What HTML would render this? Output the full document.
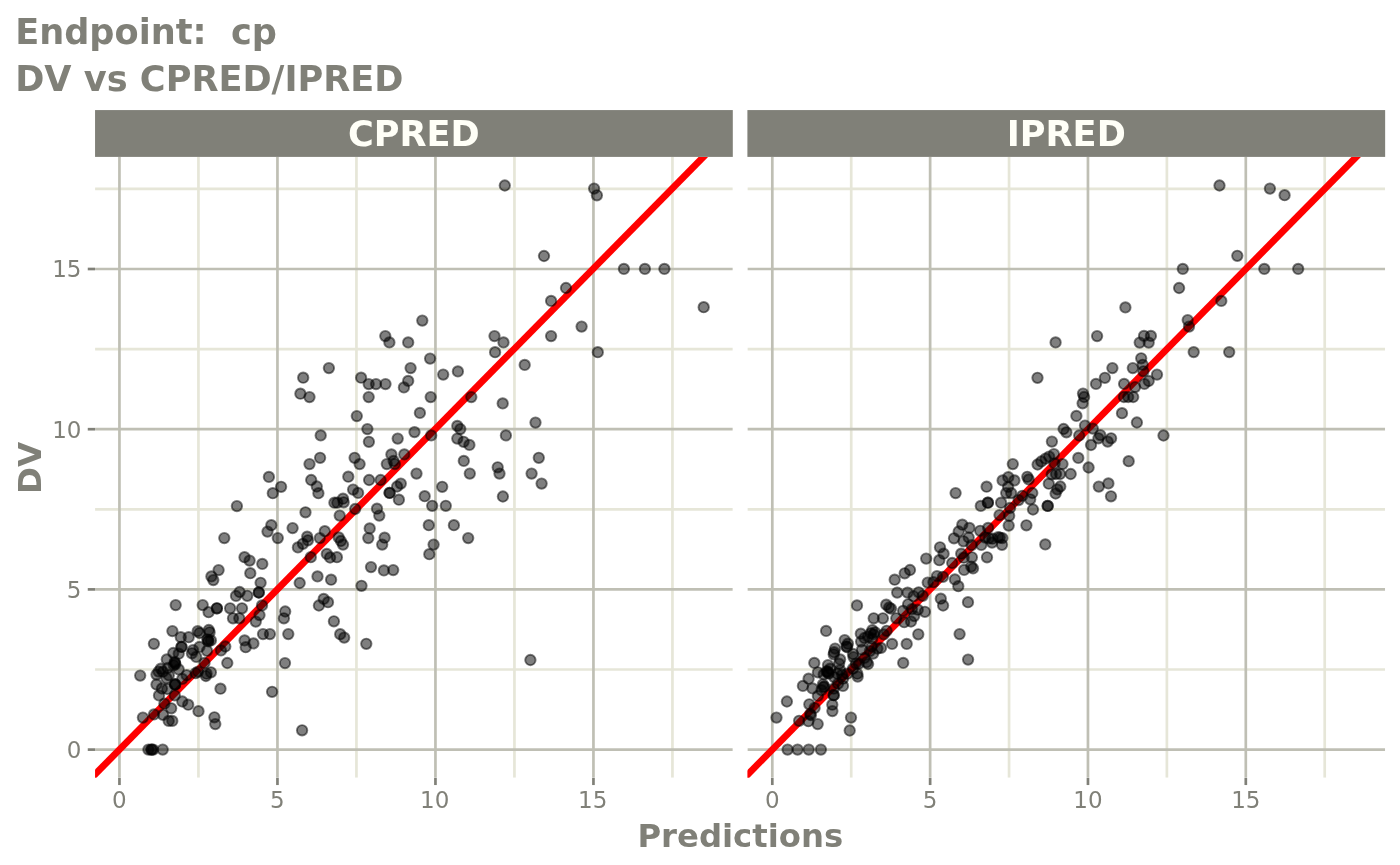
<!DOCTYPE html>
<html><head><meta charset="utf-8"><title>DV vs CPRED/IPRED</title>
<style>html,body{margin:0;padding:0;background:#fff;}svg{display:block}text{font-family:"DejaVu Sans","Liberation Sans",sans-serif;fill:#808078}.b{font-weight:bold}.t{font-size:23px}</style></head><body>
<svg width="1400" height="865" viewBox="0 0 1400 865">
<rect width="1400" height="865" fill="#fff"/>
<text class="b" x="15.2" y="43.9" font-size="35.15" xml:space="preserve" style="white-space:pre">Endpoint:  cp</text>
<text class="b" x="15.2" y="91.4" font-size="35.15">DV vs CPRED/IPRED</text>
<defs><clipPath id="c0"><rect x="95.05" y="156.90" width="637.75" height="620.95"/></clipPath><clipPath id="c1"><rect x="747.40" y="156.90" width="637.75" height="620.95"/></clipPath></defs>
<rect x="95.05" y="110.07" width="637.75" height="46.83" fill="#808078"/>
<text class="b" x="413.92" y="146.4" font-size="35.15" text-anchor="middle" style="fill:#FFFFF7">CPRED</text>
<g clip-path="url(#c0)">
<line x1="198.45" x2="198.45" y1="156.90" y2="777.85" stroke="#E6E6D8" stroke-width="2.70"/>
<line x1="95.05" x2="732.80" y1="669.50" y2="669.50" stroke="#E6E6D8" stroke-width="2.70"/>
<line x1="356.45" x2="356.45" y1="156.90" y2="777.85" stroke="#E6E6D8" stroke-width="2.70"/>
<line x1="95.05" x2="732.80" y1="509.30" y2="509.30" stroke="#E6E6D8" stroke-width="2.70"/>
<line x1="514.45" x2="514.45" y1="156.90" y2="777.85" stroke="#E6E6D8" stroke-width="2.70"/>
<line x1="95.05" x2="732.80" y1="349.10" y2="349.10" stroke="#E6E6D8" stroke-width="2.70"/>
<line x1="672.45" x2="672.45" y1="156.90" y2="777.85" stroke="#E6E6D8" stroke-width="2.70"/>
<line x1="95.05" x2="732.80" y1="188.90" y2="188.90" stroke="#E6E6D8" stroke-width="2.70"/>
<line x1="119.45" x2="119.45" y1="156.90" y2="777.85" stroke="#BFBFB4" stroke-width="2.70"/>
<line x1="95.05" x2="732.80" y1="749.60" y2="749.60" stroke="#BFBFB4" stroke-width="2.70"/>
<line x1="277.45" x2="277.45" y1="156.90" y2="777.85" stroke="#BFBFB4" stroke-width="2.70"/>
<line x1="95.05" x2="732.80" y1="589.40" y2="589.40" stroke="#BFBFB4" stroke-width="2.70"/>
<line x1="435.45" x2="435.45" y1="156.90" y2="777.85" stroke="#BFBFB4" stroke-width="2.70"/>
<line x1="95.05" x2="732.80" y1="429.20" y2="429.20" stroke="#BFBFB4" stroke-width="2.70"/>
<line x1="593.45" x2="593.45" y1="156.90" y2="777.85" stroke="#BFBFB4" stroke-width="2.70"/>
<line x1="95.05" x2="732.80" y1="269.00" y2="269.00" stroke="#BFBFB4" stroke-width="2.70"/>
<line x1="24.75" y1="845.72" x2="813.92" y2="44.72" stroke="#ff0000" stroke-width="6.8"/>
<g fill="#000" fill-opacity="0.5" stroke="#000" stroke-opacity="0.5" stroke-width="1.9">
<circle cx="504.8" cy="185.5" r="5.2"/>
<circle cx="594.1" cy="188.6" r="5.2"/>
<circle cx="596.9" cy="195.3" r="5.2"/>
<circle cx="544.0" cy="256.0" r="5.2"/>
<circle cx="623.9" cy="268.9" r="5.2"/>
<circle cx="644.9" cy="268.9" r="5.2"/>
<circle cx="664.4" cy="268.9" r="5.2"/>
<circle cx="566.0" cy="288.0" r="5.2"/>
<circle cx="551.1" cy="300.9" r="5.2"/>
<circle cx="703.7" cy="307.2" r="5.2"/>
<circle cx="581.6" cy="326.6" r="5.2"/>
<circle cx="494.5" cy="336.1" r="5.2"/>
<circle cx="551.1" cy="336.1" r="5.2"/>
<circle cx="503.5" cy="342.4" r="5.2"/>
<circle cx="495.1" cy="352.2" r="5.2"/>
<circle cx="597.8" cy="352.2" r="5.2"/>
<circle cx="524.7" cy="364.9" r="5.2"/>
<circle cx="502.7" cy="403.4" r="5.2"/>
<circle cx="535.5" cy="422.6" r="5.2"/>
<circle cx="505.9" cy="435.4" r="5.2"/>
<circle cx="538.8" cy="457.8" r="5.2"/>
<circle cx="497.7" cy="467.3" r="5.2"/>
<circle cx="499.5" cy="473.6" r="5.2"/>
<circle cx="531.6" cy="473.6" r="5.2"/>
<circle cx="422.3" cy="320.6" r="5.2"/>
<circle cx="385.3" cy="336.1" r="5.2"/>
<circle cx="389.4" cy="342.4" r="5.2"/>
<circle cx="408.2" cy="342.4" r="5.2"/>
<circle cx="430.1" cy="358.6" r="5.2"/>
<circle cx="328.9" cy="368.1" r="5.2"/>
<circle cx="410.6" cy="368.1" r="5.2"/>
<circle cx="457.9" cy="371.4" r="5.2"/>
<circle cx="443.2" cy="374.6" r="5.2"/>
<circle cx="303.2" cy="377.7" r="5.2"/>
<circle cx="361.1" cy="377.7" r="5.2"/>
<circle cx="408.2" cy="380.9" r="5.2"/>
<circle cx="368.7" cy="384.1" r="5.2"/>
<circle cx="376.0" cy="384.1" r="5.2"/>
<circle cx="385.5" cy="384.1" r="5.2"/>
<circle cx="403.9" cy="387.4" r="5.2"/>
<circle cx="300.4" cy="393.7" r="5.2"/>
<circle cx="309.5" cy="397.1" r="5.2"/>
<circle cx="368.7" cy="397.1" r="5.2"/>
<circle cx="430.7" cy="397.1" r="5.2"/>
<circle cx="471.3" cy="397.1" r="5.2"/>
<circle cx="419.9" cy="412.9" r="5.2"/>
<circle cx="356.8" cy="416.1" r="5.2"/>
<circle cx="457.3" cy="425.9" r="5.2"/>
<circle cx="367.4" cy="429.1" r="5.2"/>
<circle cx="460.3" cy="429.1" r="5.2"/>
<circle cx="414.5" cy="432.1" r="5.2"/>
<circle cx="320.7" cy="435.4" r="5.2"/>
<circle cx="431.2" cy="435.4" r="5.2"/>
<circle cx="397.7" cy="438.6" r="5.2"/>
<circle cx="457.3" cy="438.6" r="5.2"/>
<circle cx="368.9" cy="441.8" r="5.2"/>
<circle cx="463.6" cy="441.8" r="5.2"/>
<circle cx="469.4" cy="444.9" r="5.2"/>
<circle cx="391.4" cy="454.4" r="5.2"/>
<circle cx="404.3" cy="454.4" r="5.2"/>
<circle cx="320.1" cy="457.8" r="5.2"/>
<circle cx="354.6" cy="457.8" r="5.2"/>
<circle cx="393.6" cy="460.9" r="5.2"/>
<circle cx="463.8" cy="460.9" r="5.2"/>
<circle cx="309.5" cy="464.1" r="5.2"/>
<circle cx="359.6" cy="464.1" r="5.2"/>
<circle cx="386.8" cy="464.1" r="5.2"/>
<circle cx="394.9" cy="464.1" r="5.2"/>
<circle cx="416.5" cy="473.6" r="5.2"/>
<circle cx="469.8" cy="473.6" r="5.2"/>
<circle cx="348.3" cy="476.7" r="5.2"/>
<circle cx="311.2" cy="480.0" r="5.2"/>
<circle cx="369.1" cy="480.0" r="5.2"/>
<circle cx="380.6" cy="480.0" r="5.2"/>
<circle cx="400.8" cy="483.6" r="5.2"/>
<circle cx="397.1" cy="486.5" r="5.2"/>
<circle cx="316.8" cy="486.5" r="5.2"/>
<circle cx="442.2" cy="486.8" r="5.2"/>
<circle cx="353.1" cy="489.6" r="5.2"/>
<circle cx="358.1" cy="492.9" r="5.2"/>
<circle cx="318.4" cy="493.2" r="5.2"/>
<circle cx="389.6" cy="492.9" r="5.2"/>
<circle cx="389.6" cy="492.9" r="5.2"/>
<circle cx="424.7" cy="496.2" r="5.2"/>
<circle cx="398.9" cy="499.7" r="5.2"/>
<circle cx="343.0" cy="498.7" r="5.2"/>
<circle cx="343.7" cy="502.3" r="5.2"/>
<circle cx="334.4" cy="502.7" r="5.2"/>
<circle cx="337.3" cy="502.7" r="5.2"/>
<circle cx="432.2" cy="505.8" r="5.2"/>
<circle cx="445.8" cy="505.8" r="5.2"/>
<circle cx="355.2" cy="509.0" r="5.2"/>
<circle cx="377.0" cy="508.7" r="5.2"/>
<circle cx="305.5" cy="512.3" r="5.2"/>
<circle cx="339.7" cy="515.6" r="5.2"/>
<circle cx="379.3" cy="515.6" r="5.2"/>
<circle cx="428.8" cy="525.2" r="5.2"/>
<circle cx="453.9" cy="525.2" r="5.2"/>
<circle cx="369.7" cy="528.4" r="5.2"/>
<circle cx="324.8" cy="531.2" r="5.2"/>
<circle cx="307.2" cy="536.7" r="5.2"/>
<circle cx="307.9" cy="540.3" r="5.2"/>
<circle cx="302.9" cy="543.8" r="5.2"/>
<circle cx="297.9" cy="547.4" r="5.2"/>
<circle cx="319.8" cy="538.1" r="5.2"/>
<circle cx="338.7" cy="537.4" r="5.2"/>
<circle cx="340.9" cy="541.0" r="5.2"/>
<circle cx="343.0" cy="544.6" r="5.2"/>
<circle cx="368.3" cy="538.1" r="5.2"/>
<circle cx="384.6" cy="537.7" r="5.2"/>
<circle cx="468.2" cy="538.1" r="5.2"/>
<circle cx="382.2" cy="544.6" r="5.2"/>
<circle cx="433.6" cy="544.6" r="5.2"/>
<circle cx="429.3" cy="554.2" r="5.2"/>
<circle cx="326.8" cy="553.9" r="5.2"/>
<circle cx="330.1" cy="557.5" r="5.2"/>
<circle cx="336.9" cy="557.2" r="5.2"/>
<circle cx="310.8" cy="557.2" r="5.2"/>
<circle cx="371.0" cy="567.1" r="5.2"/>
<circle cx="383.9" cy="570.4" r="5.2"/>
<circle cx="393.2" cy="570.1" r="5.2"/>
<circle cx="317.5" cy="576.4" r="5.2"/>
<circle cx="331.1" cy="579.7" r="5.2"/>
<circle cx="299.7" cy="583.0" r="5.2"/>
<circle cx="361.5" cy="585.8" r="5.2"/>
<circle cx="541.6" cy="483.6" r="5.2"/>
<circle cx="502.9" cy="496.5" r="5.2"/>
<circle cx="268.9" cy="476.9" r="5.2"/>
<circle cx="281.1" cy="486.8" r="5.2"/>
<circle cx="272.8" cy="493.2" r="5.2"/>
<circle cx="236.9" cy="506.1" r="5.2"/>
<circle cx="271.3" cy="525.2" r="5.2"/>
<circle cx="267.5" cy="531.6" r="5.2"/>
<circle cx="277.8" cy="538.1" r="5.2"/>
<circle cx="292.6" cy="528.1" r="5.2"/>
<circle cx="224.3" cy="538.1" r="5.2"/>
<circle cx="244.5" cy="557.2" r="5.2"/>
<circle cx="249.6" cy="560.6" r="5.2"/>
<circle cx="262.3" cy="563.9" r="5.2"/>
<circle cx="218.6" cy="570.1" r="5.2"/>
<circle cx="211.4" cy="576.4" r="5.2"/>
<circle cx="213.3" cy="580.1" r="5.2"/>
<circle cx="250.3" cy="573.2" r="5.2"/>
<circle cx="260.6" cy="582.8" r="5.2"/>
<circle cx="258.8" cy="592.5" r="5.2"/>
<circle cx="258.8" cy="592.5" r="5.2"/>
<circle cx="239.6" cy="592.0" r="5.2"/>
<circle cx="236.0" cy="595.9" r="5.2"/>
<circle cx="247.3" cy="595.8" r="5.2"/>
<circle cx="202.7" cy="605.1" r="5.2"/>
<circle cx="208.6" cy="612.2" r="5.2"/>
<circle cx="216.9" cy="608.3" r="5.2"/>
<circle cx="216.9" cy="608.3" r="5.2"/>
<circle cx="230.1" cy="608.3" r="5.2"/>
<circle cx="242.0" cy="608.3" r="5.2"/>
<circle cx="233.0" cy="618.3" r="5.2"/>
<circle cx="239.3" cy="618.3" r="5.2"/>
<circle cx="262.0" cy="605.4" r="5.2"/>
<circle cx="259.5" cy="615.1" r="5.2"/>
<circle cx="255.8" cy="621.6" r="5.2"/>
<circle cx="285.2" cy="611.5" r="5.2"/>
<circle cx="283.9" cy="618.3" r="5.2"/>
<circle cx="263.0" cy="634.1" r="5.2"/>
<circle cx="269.9" cy="634.1" r="5.2"/>
<circle cx="288.3" cy="634.1" r="5.2"/>
<circle cx="253.4" cy="643.4" r="5.2"/>
<circle cx="175.7" cy="605.1" r="5.2"/>
<circle cx="285.0" cy="663.1" r="5.2"/>
<circle cx="272.1" cy="691.8" r="5.2"/>
<circle cx="140.2" cy="675.6" r="5.2"/>
<circle cx="172.4" cy="631.1" r="5.2"/>
<circle cx="180.8" cy="637.2" r="5.2"/>
<circle cx="188.7" cy="637.2" r="5.2"/>
<circle cx="153.9" cy="643.8" r="5.2"/>
<circle cx="197.7" cy="631.1" r="5.2"/>
<circle cx="199.5" cy="633.0" r="5.2"/>
<circle cx="208.8" cy="630.0" r="5.2"/>
<circle cx="209.6" cy="632.3" r="5.2"/>
<circle cx="207.3" cy="639.3" r="5.2"/>
<circle cx="208.4" cy="641.3" r="5.2"/>
<circle cx="210.9" cy="640.4" r="5.2"/>
<circle cx="181.5" cy="646.9" r="5.2"/>
<circle cx="181.5" cy="646.9" r="5.2"/>
<circle cx="199.5" cy="646.9" r="5.2"/>
<circle cx="207.0" cy="650.8" r="5.2"/>
<circle cx="193.0" cy="650.1" r="5.2"/>
<circle cx="191.9" cy="653.3" r="5.2"/>
<circle cx="196.2" cy="656.9" r="5.2"/>
<circle cx="173.3" cy="653.0" r="5.2"/>
<circle cx="178.7" cy="653.7" r="5.2"/>
<circle cx="166.8" cy="659.4" r="5.2"/>
<circle cx="174.7" cy="661.9" r="5.2"/>
<circle cx="175.4" cy="664.1" r="5.2"/>
<circle cx="173.7" cy="665.3" r="5.2"/>
<circle cx="225.3" cy="646.5" r="5.2"/>
<circle cx="221.0" cy="650.4" r="5.2"/>
<circle cx="244.6" cy="640.4" r="5.2"/>
<circle cx="245.7" cy="647.2" r="5.2"/>
<circle cx="227.3" cy="663.0" r="5.2"/>
<circle cx="204.5" cy="663.0" r="5.2"/>
<circle cx="198.0" cy="671.6" r="5.2"/>
<circle cx="195.7" cy="673.2" r="5.2"/>
<circle cx="206.6" cy="673.7" r="5.2"/>
<circle cx="210.9" cy="672.3" r="5.2"/>
<circle cx="205.9" cy="676.0" r="5.2"/>
<circle cx="160.8" cy="668.7" r="5.2"/>
<circle cx="158.6" cy="671.6" r="5.2"/>
<circle cx="162.9" cy="671.7" r="5.2"/>
<circle cx="156.5" cy="674.6" r="5.2"/>
<circle cx="167.9" cy="668.0" r="5.2"/>
<circle cx="168.8" cy="675.2" r="5.2"/>
<circle cx="166.5" cy="678.2" r="5.2"/>
<circle cx="178.7" cy="669.4" r="5.2"/>
<circle cx="186.6" cy="675.2" r="5.2"/>
<circle cx="182.3" cy="678.9" r="5.2"/>
<circle cx="175.1" cy="684.5" r="5.2"/>
<circle cx="175.1" cy="684.5" r="5.2"/>
<circle cx="156.5" cy="684.5" r="5.2"/>
<circle cx="161.9" cy="688.5" r="5.2"/>
<circle cx="167.3" cy="689.0" r="5.2"/>
<circle cx="159.0" cy="695.4" r="5.2"/>
<circle cx="174.8" cy="695.4" r="5.2"/>
<circle cx="182.3" cy="701.5" r="5.2"/>
<circle cx="188.2" cy="704.7" r="5.2"/>
<circle cx="164.4" cy="703.7" r="5.2"/>
<circle cx="171.2" cy="708.3" r="5.2"/>
<circle cx="198.5" cy="711.2" r="5.2"/>
<circle cx="154.0" cy="714.4" r="5.2"/>
<circle cx="142.9" cy="717.6" r="5.2"/>
<circle cx="163.0" cy="714.8" r="5.2"/>
<circle cx="168.7" cy="720.9" r="5.2"/>
<circle cx="172.3" cy="720.9" r="5.2"/>
<circle cx="220.5" cy="688.7" r="5.2"/>
<circle cx="214.4" cy="717.3" r="5.2"/>
<circle cx="215.3" cy="724.1" r="5.2"/>
<circle cx="323.7" cy="598.9" r="5.2"/>
<circle cx="328.0" cy="602.2" r="5.2"/>
<circle cx="318.9" cy="605.5" r="5.2"/>
<circle cx="333.9" cy="621.3" r="5.2"/>
<circle cx="340.2" cy="634.2" r="5.2"/>
<circle cx="344.2" cy="637.6" r="5.2"/>
<circle cx="366.3" cy="643.8" r="5.2"/>
<circle cx="530.4" cy="660.0" r="5.2"/>
<circle cx="302.1" cy="730.3" r="5.2"/>
<circle cx="148.4" cy="749.6" r="5.2"/>
<circle cx="151.2" cy="749.6" r="5.2"/>
<circle cx="151.8" cy="749.6" r="5.2"/>
<circle cx="153.2" cy="749.6" r="5.2"/>
<circle cx="162.7" cy="749.6" r="5.2"/>
<circle cx="208.2" cy="640.4" r="5.2"/>
<circle cx="174.9" cy="663.1" r="5.2"/>
<circle cx="175.2" cy="684.4" r="5.2"/>
</g>
</g>
<line x1="119.45" x2="119.45" y1="777.85" y2="785.05" stroke="#808078" stroke-width="2.70"/>
<text class="t" x="119.25" y="807.9" text-anchor="middle">0</text>
<line x1="277.45" x2="277.45" y1="777.85" y2="785.05" stroke="#808078" stroke-width="2.70"/>
<text class="t" x="277.25" y="807.9" text-anchor="middle">5</text>
<line x1="435.45" x2="435.45" y1="777.85" y2="785.05" stroke="#808078" stroke-width="2.70"/>
<text class="t" x="434.65" y="807.9" text-anchor="middle">10</text>
<line x1="593.45" x2="593.45" y1="777.85" y2="785.05" stroke="#808078" stroke-width="2.70"/>
<text class="t" x="592.65" y="807.9" text-anchor="middle">15</text>
<rect x="747.40" y="110.07" width="637.75" height="46.83" fill="#808078"/>
<text class="b" x="1066.28" y="146.4" font-size="35.15" text-anchor="middle" style="fill:#FFFFF7">IPRED</text>
<g clip-path="url(#c1)">
<line x1="851.22" x2="851.22" y1="156.90" y2="777.85" stroke="#E6E6D8" stroke-width="2.70"/>
<line x1="747.40" x2="1385.15" y1="669.50" y2="669.50" stroke="#E6E6D8" stroke-width="2.70"/>
<line x1="1009.05" x2="1009.05" y1="156.90" y2="777.85" stroke="#E6E6D8" stroke-width="2.70"/>
<line x1="747.40" x2="1385.15" y1="509.30" y2="509.30" stroke="#E6E6D8" stroke-width="2.70"/>
<line x1="1166.89" x2="1166.89" y1="156.90" y2="777.85" stroke="#E6E6D8" stroke-width="2.70"/>
<line x1="747.40" x2="1385.15" y1="349.10" y2="349.10" stroke="#E6E6D8" stroke-width="2.70"/>
<line x1="1324.72" x2="1324.72" y1="156.90" y2="777.85" stroke="#E6E6D8" stroke-width="2.70"/>
<line x1="747.40" x2="1385.15" y1="188.90" y2="188.90" stroke="#E6E6D8" stroke-width="2.70"/>
<line x1="772.30" x2="772.30" y1="156.90" y2="777.85" stroke="#BFBFB4" stroke-width="2.70"/>
<line x1="747.40" x2="1385.15" y1="749.60" y2="749.60" stroke="#BFBFB4" stroke-width="2.70"/>
<line x1="930.13" x2="930.13" y1="156.90" y2="777.85" stroke="#BFBFB4" stroke-width="2.70"/>
<line x1="747.40" x2="1385.15" y1="589.40" y2="589.40" stroke="#BFBFB4" stroke-width="2.70"/>
<line x1="1087.97" x2="1087.97" y1="156.90" y2="777.85" stroke="#BFBFB4" stroke-width="2.70"/>
<line x1="747.40" x2="1385.15" y1="429.20" y2="429.20" stroke="#BFBFB4" stroke-width="2.70"/>
<line x1="1245.80" x2="1245.80" y1="156.90" y2="777.85" stroke="#BFBFB4" stroke-width="2.70"/>
<line x1="747.40" x2="1385.15" y1="269.00" y2="269.00" stroke="#BFBFB4" stroke-width="2.70"/>
<line x1="677.60" y1="845.72" x2="1466.77" y2="44.72" stroke="#ff0000" stroke-width="6.8"/>
<g fill="#000" fill-opacity="0.5" stroke="#000" stroke-opacity="0.5" stroke-width="1.9">
<circle cx="1219.5" cy="185.5" r="5.2"/>
<circle cx="1269.9" cy="188.6" r="5.2"/>
<circle cx="1284.6" cy="195.2" r="5.2"/>
<circle cx="1237.3" cy="255.8" r="5.2"/>
<circle cx="1182.8" cy="268.9" r="5.2"/>
<circle cx="1264.3" cy="268.9" r="5.2"/>
<circle cx="1298.2" cy="268.9" r="5.2"/>
<circle cx="1179.1" cy="288.0" r="5.2"/>
<circle cx="1221.3" cy="300.9" r="5.2"/>
<circle cx="1125.4" cy="307.4" r="5.2"/>
<circle cx="1187.7" cy="320.1" r="5.2"/>
<circle cx="1189.0" cy="326.6" r="5.2"/>
<circle cx="1055.6" cy="342.4" r="5.2"/>
<circle cx="1097.1" cy="336.1" r="5.2"/>
<circle cx="1144.0" cy="335.9" r="5.2"/>
<circle cx="1150.9" cy="335.9" r="5.2"/>
<circle cx="1139.7" cy="342.6" r="5.2"/>
<circle cx="1148.7" cy="342.6" r="5.2"/>
<circle cx="1193.7" cy="352.1" r="5.2"/>
<circle cx="1229.2" cy="352.1" r="5.2"/>
<circle cx="1141.2" cy="358.3" r="5.2"/>
<circle cx="1142.7" cy="364.8" r="5.2"/>
<circle cx="1143.4" cy="371.3" r="5.2"/>
<circle cx="1112.4" cy="368.1" r="5.2"/>
<circle cx="1132.8" cy="368.1" r="5.2"/>
<circle cx="1157.0" cy="374.6" r="5.2"/>
<circle cx="1037.5" cy="377.8" r="5.2"/>
<circle cx="1104.9" cy="377.8" r="5.2"/>
<circle cx="1096.0" cy="383.9" r="5.2"/>
<circle cx="1124.1" cy="383.9" r="5.2"/>
<circle cx="1148.7" cy="381.0" r="5.2"/>
<circle cx="1144.4" cy="383.9" r="5.2"/>
<circle cx="1135.1" cy="387.1" r="5.2"/>
<circle cx="1083.0" cy="393.6" r="5.2"/>
<circle cx="1084.1" cy="397.0" r="5.2"/>
<circle cx="1082.6" cy="403.3" r="5.2"/>
<circle cx="1123.9" cy="397.0" r="5.2"/>
<circle cx="1128.2" cy="397.0" r="5.2"/>
<circle cx="1133.2" cy="397.0" r="5.2"/>
<circle cx="1122.0" cy="413.2" r="5.2"/>
<circle cx="1076.4" cy="415.9" r="5.2"/>
<circle cx="1136.9" cy="422.5" r="5.2"/>
<circle cx="1085.0" cy="425.6" r="5.2"/>
<circle cx="1092.8" cy="428.6" r="5.2"/>
<circle cx="1063.6" cy="429.0" r="5.2"/>
<circle cx="1066.4" cy="432.3" r="5.2"/>
<circle cx="1079.2" cy="435.5" r="5.2"/>
<circle cx="1163.5" cy="435.5" r="5.2"/>
<circle cx="1100.3" cy="435.1" r="5.2"/>
<circle cx="1098.4" cy="438.3" r="5.2"/>
<circle cx="1111.1" cy="438.3" r="5.2"/>
<circle cx="1107.7" cy="441.6" r="5.2"/>
<circle cx="1051.9" cy="441.6" r="5.2"/>
<circle cx="1091.0" cy="445.0" r="5.2"/>
<circle cx="1053.9" cy="454.1" r="5.2"/>
<circle cx="1049.2" cy="456.6" r="5.2"/>
<circle cx="1045.6" cy="458.6" r="5.2"/>
<circle cx="1041.3" cy="461.5" r="5.2"/>
<circle cx="1037.6" cy="464.5" r="5.2"/>
<circle cx="1054.6" cy="463.4" r="5.2"/>
<circle cx="1062.5" cy="464.1" r="5.2"/>
<circle cx="1078.3" cy="457.9" r="5.2"/>
<circle cx="1088.6" cy="467.5" r="5.2"/>
<circle cx="1128.7" cy="461.2" r="5.2"/>
<circle cx="1012.8" cy="464.1" r="5.2"/>
<circle cx="1098.8" cy="486.6" r="5.2"/>
<circle cx="1108.4" cy="483.4" r="5.2"/>
<circle cx="1111.0" cy="496.3" r="5.2"/>
<circle cx="980.8" cy="505.9" r="5.2"/>
<circle cx="1008.7" cy="525.6" r="5.2"/>
<circle cx="1026.4" cy="525.3" r="5.2"/>
<circle cx="1045.3" cy="544.4" r="5.2"/>
<circle cx="1051.7" cy="474.3" r="5.2"/>
<circle cx="1056.0" cy="474.0" r="5.2"/>
<circle cx="1060.1" cy="474.0" r="5.2"/>
<circle cx="1070.7" cy="474.0" r="5.2"/>
<circle cx="1008.3" cy="477.2" r="5.2"/>
<circle cx="1002.6" cy="480.4" r="5.2"/>
<circle cx="1014.4" cy="480.4" r="5.2"/>
<circle cx="1008.1" cy="486.9" r="5.2"/>
<circle cx="1006.2" cy="493.1" r="5.2"/>
<circle cx="1011.2" cy="493.1" r="5.2"/>
<circle cx="1027.3" cy="476.8" r="5.2"/>
<circle cx="1028.7" cy="479.4" r="5.2"/>
<circle cx="986.6" cy="486.7" r="5.2"/>
<circle cx="1048.8" cy="483.7" r="5.2"/>
<circle cx="1060.3" cy="486.5" r="5.2"/>
<circle cx="1057.4" cy="489.4" r="5.2"/>
<circle cx="1055.6" cy="493.5" r="5.2"/>
<circle cx="1032.3" cy="493.0" r="5.2"/>
<circle cx="1022.3" cy="495.8" r="5.2"/>
<circle cx="1030.2" cy="499.3" r="5.2"/>
<circle cx="1018.6" cy="500.1" r="5.2"/>
<circle cx="987.9" cy="502.7" r="5.2"/>
<circle cx="987.9" cy="502.7" r="5.2"/>
<circle cx="1001.1" cy="502.7" r="5.2"/>
<circle cx="1047.7" cy="505.9" r="5.2"/>
<circle cx="1047.7" cy="505.9" r="5.2"/>
<circle cx="1033.0" cy="509.5" r="5.2"/>
<circle cx="1010.1" cy="508.0" r="5.2"/>
<circle cx="999.5" cy="515.1" r="5.2"/>
<circle cx="1009.2" cy="515.8" r="5.2"/>
<circle cx="962.3" cy="524.7" r="5.2"/>
<circle cx="969.4" cy="527.9" r="5.2"/>
<circle cx="958.7" cy="531.5" r="5.2"/>
<circle cx="954.0" cy="538.3" r="5.2"/>
<circle cx="980.2" cy="530.8" r="5.2"/>
<circle cx="988.1" cy="527.9" r="5.2"/>
<circle cx="968.7" cy="537.5" r="5.2"/>
<circle cx="963.5" cy="541.3" r="5.2"/>
<circle cx="985.2" cy="537.6" r="5.2"/>
<circle cx="988.8" cy="538.3" r="5.2"/>
<circle cx="992.4" cy="538.7" r="5.2"/>
<circle cx="998.1" cy="537.1" r="5.2"/>
<circle cx="999.9" cy="537.6" r="5.2"/>
<circle cx="1002.4" cy="538.1" r="5.2"/>
<circle cx="1002.0" cy="544.8" r="5.2"/>
<circle cx="992.0" cy="542.6" r="5.2"/>
<circle cx="981.3" cy="544.9" r="5.2"/>
<circle cx="971.6" cy="545.1" r="5.2"/>
<circle cx="940.0" cy="547.3" r="5.2"/>
<circle cx="943.6" cy="553.7" r="5.2"/>
<circle cx="939.3" cy="560.2" r="5.2"/>
<circle cx="961.2" cy="553.7" r="5.2"/>
<circle cx="963.7" cy="557.7" r="5.2"/>
<circle cx="971.9" cy="557.3" r="5.2"/>
<circle cx="987.0" cy="557.3" r="5.2"/>
<circle cx="952.2" cy="563.0" r="5.2"/>
<circle cx="971.2" cy="566.6" r="5.2"/>
<circle cx="973.0" cy="568.4" r="5.2"/>
<circle cx="964.1" cy="569.9" r="5.2"/>
<circle cx="926.2" cy="558.6" r="5.2"/>
<circle cx="910.0" cy="570.0" r="5.2"/>
<circle cx="904.7" cy="573.3" r="5.2"/>
<circle cx="894.7" cy="579.7" r="5.2"/>
<circle cx="937.0" cy="576.1" r="5.2"/>
<circle cx="942.9" cy="576.8" r="5.2"/>
<circle cx="954.9" cy="579.4" r="5.2"/>
<circle cx="958.3" cy="586.2" r="5.2"/>
<circle cx="927.7" cy="582.6" r="5.2"/>
<circle cx="933.4" cy="582.2" r="5.2"/>
<circle cx="897.2" cy="592.6" r="5.2"/>
<circle cx="907.6" cy="592.6" r="5.2"/>
<circle cx="918.7" cy="592.3" r="5.2"/>
<circle cx="913.7" cy="596.2" r="5.2"/>
<circle cx="922.7" cy="595.8" r="5.2"/>
<circle cx="940.8" cy="598.7" r="5.2"/>
<circle cx="943.1" cy="605.5" r="5.2"/>
<circle cx="968.0" cy="602.2" r="5.2"/>
<circle cx="857.0" cy="605.4" r="5.2"/>
<circle cx="886.2" cy="604.7" r="5.2"/>
<circle cx="889.1" cy="607.5" r="5.2"/>
<circle cx="891.0" cy="608.6" r="5.2"/>
<circle cx="908.1" cy="604.3" r="5.2"/>
<circle cx="911.9" cy="609.1" r="5.2"/>
<circle cx="903.1" cy="610.8" r="5.2"/>
<circle cx="917.8" cy="609.7" r="5.2"/>
<circle cx="924.9" cy="611.8" r="5.2"/>
<circle cx="914.2" cy="616.1" r="5.2"/>
<circle cx="896.3" cy="618.3" r="5.2"/>
<circle cx="911.0" cy="621.5" r="5.2"/>
<circle cx="904.2" cy="622.2" r="5.2"/>
<circle cx="873.7" cy="618.3" r="5.2"/>
<circle cx="882.9" cy="618.3" r="5.2"/>
<circle cx="918.3" cy="634.3" r="5.2"/>
<circle cx="886.6" cy="630.8" r="5.2"/>
<circle cx="883.7" cy="634.4" r="5.2"/>
<circle cx="860.8" cy="633.7" r="5.2"/>
<circle cx="872.3" cy="630.1" r="5.2"/>
<circle cx="870.8" cy="633.3" r="5.2"/>
<circle cx="873.7" cy="634.4" r="5.2"/>
<circle cx="875.1" cy="632.3" r="5.2"/>
<circle cx="868.0" cy="636.6" r="5.2"/>
<circle cx="864.4" cy="638.0" r="5.2"/>
<circle cx="861.1" cy="641.6" r="5.2"/>
<circle cx="872.3" cy="638.7" r="5.2"/>
<circle cx="892.1" cy="643.9" r="5.2"/>
<circle cx="906.7" cy="643.9" r="5.2"/>
<circle cx="844.7" cy="640.1" r="5.2"/>
<circle cx="847.9" cy="643.7" r="5.2"/>
<circle cx="846.5" cy="646.3" r="5.2"/>
<circle cx="847.0" cy="647.2" r="5.2"/>
<circle cx="835.1" cy="648.6" r="5.2"/>
<circle cx="834.1" cy="652.2" r="5.2"/>
<circle cx="833.7" cy="654.3" r="5.2"/>
<circle cx="853.0" cy="654.0" r="5.2"/>
<circle cx="853.5" cy="657.1" r="5.2"/>
<circle cx="840.1" cy="659.4" r="5.2"/>
<circle cx="839.1" cy="663.7" r="5.2"/>
<circle cx="814.3" cy="662.9" r="5.2"/>
<circle cx="828.0" cy="665.1" r="5.2"/>
<circle cx="830.1" cy="668.7" r="5.2"/>
<circle cx="826.5" cy="671.5" r="5.2"/>
<circle cx="828.7" cy="673.7" r="5.2"/>
<circle cx="823.7" cy="674.4" r="5.2"/>
<circle cx="817.9" cy="672.3" r="5.2"/>
<circle cx="840.1" cy="670.1" r="5.2"/>
<circle cx="837.3" cy="673.7" r="5.2"/>
<circle cx="834.4" cy="677.3" r="5.2"/>
<circle cx="866.7" cy="662.2" r="5.2"/>
<circle cx="868.1" cy="664.0" r="5.2"/>
<circle cx="862.0" cy="649.7" r="5.2"/>
<circle cx="871.7" cy="646.5" r="5.2"/>
<circle cx="877.4" cy="648.6" r="5.2"/>
<circle cx="881.0" cy="647.9" r="5.2"/>
<circle cx="873.1" cy="653.6" r="5.2"/>
<circle cx="864.5" cy="657.9" r="5.2"/>
<circle cx="858.8" cy="663.7" r="5.2"/>
<circle cx="853.0" cy="668.7" r="5.2"/>
<circle cx="847.3" cy="673.7" r="5.2"/>
<circle cx="843.0" cy="678.7" r="5.2"/>
<circle cx="838.0" cy="683.7" r="5.2"/>
<circle cx="833.7" cy="688.7" r="5.2"/>
<circle cx="857.3" cy="673.7" r="5.2"/>
<circle cx="857.7" cy="676.6" r="5.2"/>
<circle cx="808.6" cy="678.7" r="5.2"/>
<circle cx="802.9" cy="685.9" r="5.2"/>
<circle cx="812.5" cy="688.4" r="5.2"/>
<circle cx="843.0" cy="685.9" r="5.2"/>
<circle cx="822.9" cy="684.4" r="5.2"/>
<circle cx="824.4" cy="686.6" r="5.2"/>
<circle cx="821.5" cy="690.2" r="5.2"/>
<circle cx="833.7" cy="695.2" r="5.2"/>
<circle cx="833.7" cy="695.2" r="5.2"/>
<circle cx="817.9" cy="695.9" r="5.2"/>
<circle cx="903.2" cy="662.9" r="5.2"/>
<circle cx="786.9" cy="701.5" r="5.2"/>
<circle cx="809.3" cy="704.3" r="5.2"/>
<circle cx="814.6" cy="707.9" r="5.2"/>
<circle cx="810.2" cy="714.0" r="5.2"/>
<circle cx="810.9" cy="715.2" r="5.2"/>
<circle cx="799.1" cy="720.8" r="5.2"/>
<circle cx="808.4" cy="721.2" r="5.2"/>
<circle cx="817.7" cy="724.1" r="5.2"/>
<circle cx="832.3" cy="704.7" r="5.2"/>
<circle cx="832.4" cy="711.1" r="5.2"/>
<circle cx="776.5" cy="717.6" r="5.2"/>
<circle cx="851.0" cy="717.6" r="5.2"/>
<circle cx="849.7" cy="730.5" r="5.2"/>
<circle cx="787.6" cy="749.6" r="5.2"/>
<circle cx="797.6" cy="749.6" r="5.2"/>
<circle cx="808.7" cy="749.6" r="5.2"/>
<circle cx="820.9" cy="749.6" r="5.2"/>
<circle cx="955.6" cy="493.1" r="5.2"/>
<circle cx="959.6" cy="634.1" r="5.2"/>
<circle cx="968.1" cy="659.6" r="5.2"/>
<circle cx="826.1" cy="630.9" r="5.2"/>
<circle cx="827.6" cy="671.5" r="5.2"/>
<circle cx="828.3" cy="672.6" r="5.2"/>
<circle cx="823.3" cy="687.0" r="5.2"/>
<circle cx="842.1" cy="674.7" r="5.2"/>
<circle cx="856.0" cy="663.6" r="5.2"/>
<circle cx="869.9" cy="651.1" r="5.2"/>
</g>
</g>
<line x1="772.30" x2="772.30" y1="777.85" y2="785.05" stroke="#808078" stroke-width="2.70"/>
<text class="t" x="772.30" y="807.9" text-anchor="middle">0</text>
<line x1="930.13" x2="930.13" y1="777.85" y2="785.05" stroke="#808078" stroke-width="2.70"/>
<text class="t" x="930.13" y="807.9" text-anchor="middle">5</text>
<line x1="1087.97" x2="1087.97" y1="777.85" y2="785.05" stroke="#808078" stroke-width="2.70"/>
<text class="t" x="1087.97" y="807.9" text-anchor="middle">10</text>
<line x1="1245.80" x2="1245.80" y1="777.85" y2="785.05" stroke="#808078" stroke-width="2.70"/>
<text class="t" x="1245.80" y="807.9" text-anchor="middle">15</text>
<line x1="87.75" x2="95.05" y1="749.60" y2="749.60" stroke="#808078" stroke-width="2.70"/>
<text class="t" x="81.5" y="758.00" text-anchor="end">0</text>
<line x1="87.75" x2="95.05" y1="589.40" y2="589.40" stroke="#808078" stroke-width="2.70"/>
<text class="t" x="81.5" y="597.80" text-anchor="end">5</text>
<line x1="87.75" x2="95.05" y1="429.20" y2="429.20" stroke="#808078" stroke-width="2.70"/>
<text class="t" x="81.5" y="437.60" text-anchor="end">10</text>
<line x1="87.75" x2="95.05" y1="269.00" y2="269.00" stroke="#808078" stroke-width="2.70"/>
<text class="t" x="81.5" y="277.40" text-anchor="end">15</text>
<text class="b" x="740.3" y="846.5" font-size="32.3" text-anchor="middle">Predictions</text>
<text class="b" transform="translate(41,468) rotate(-90)" font-size="32.5" text-anchor="middle">DV</text>
</svg></body></html>
